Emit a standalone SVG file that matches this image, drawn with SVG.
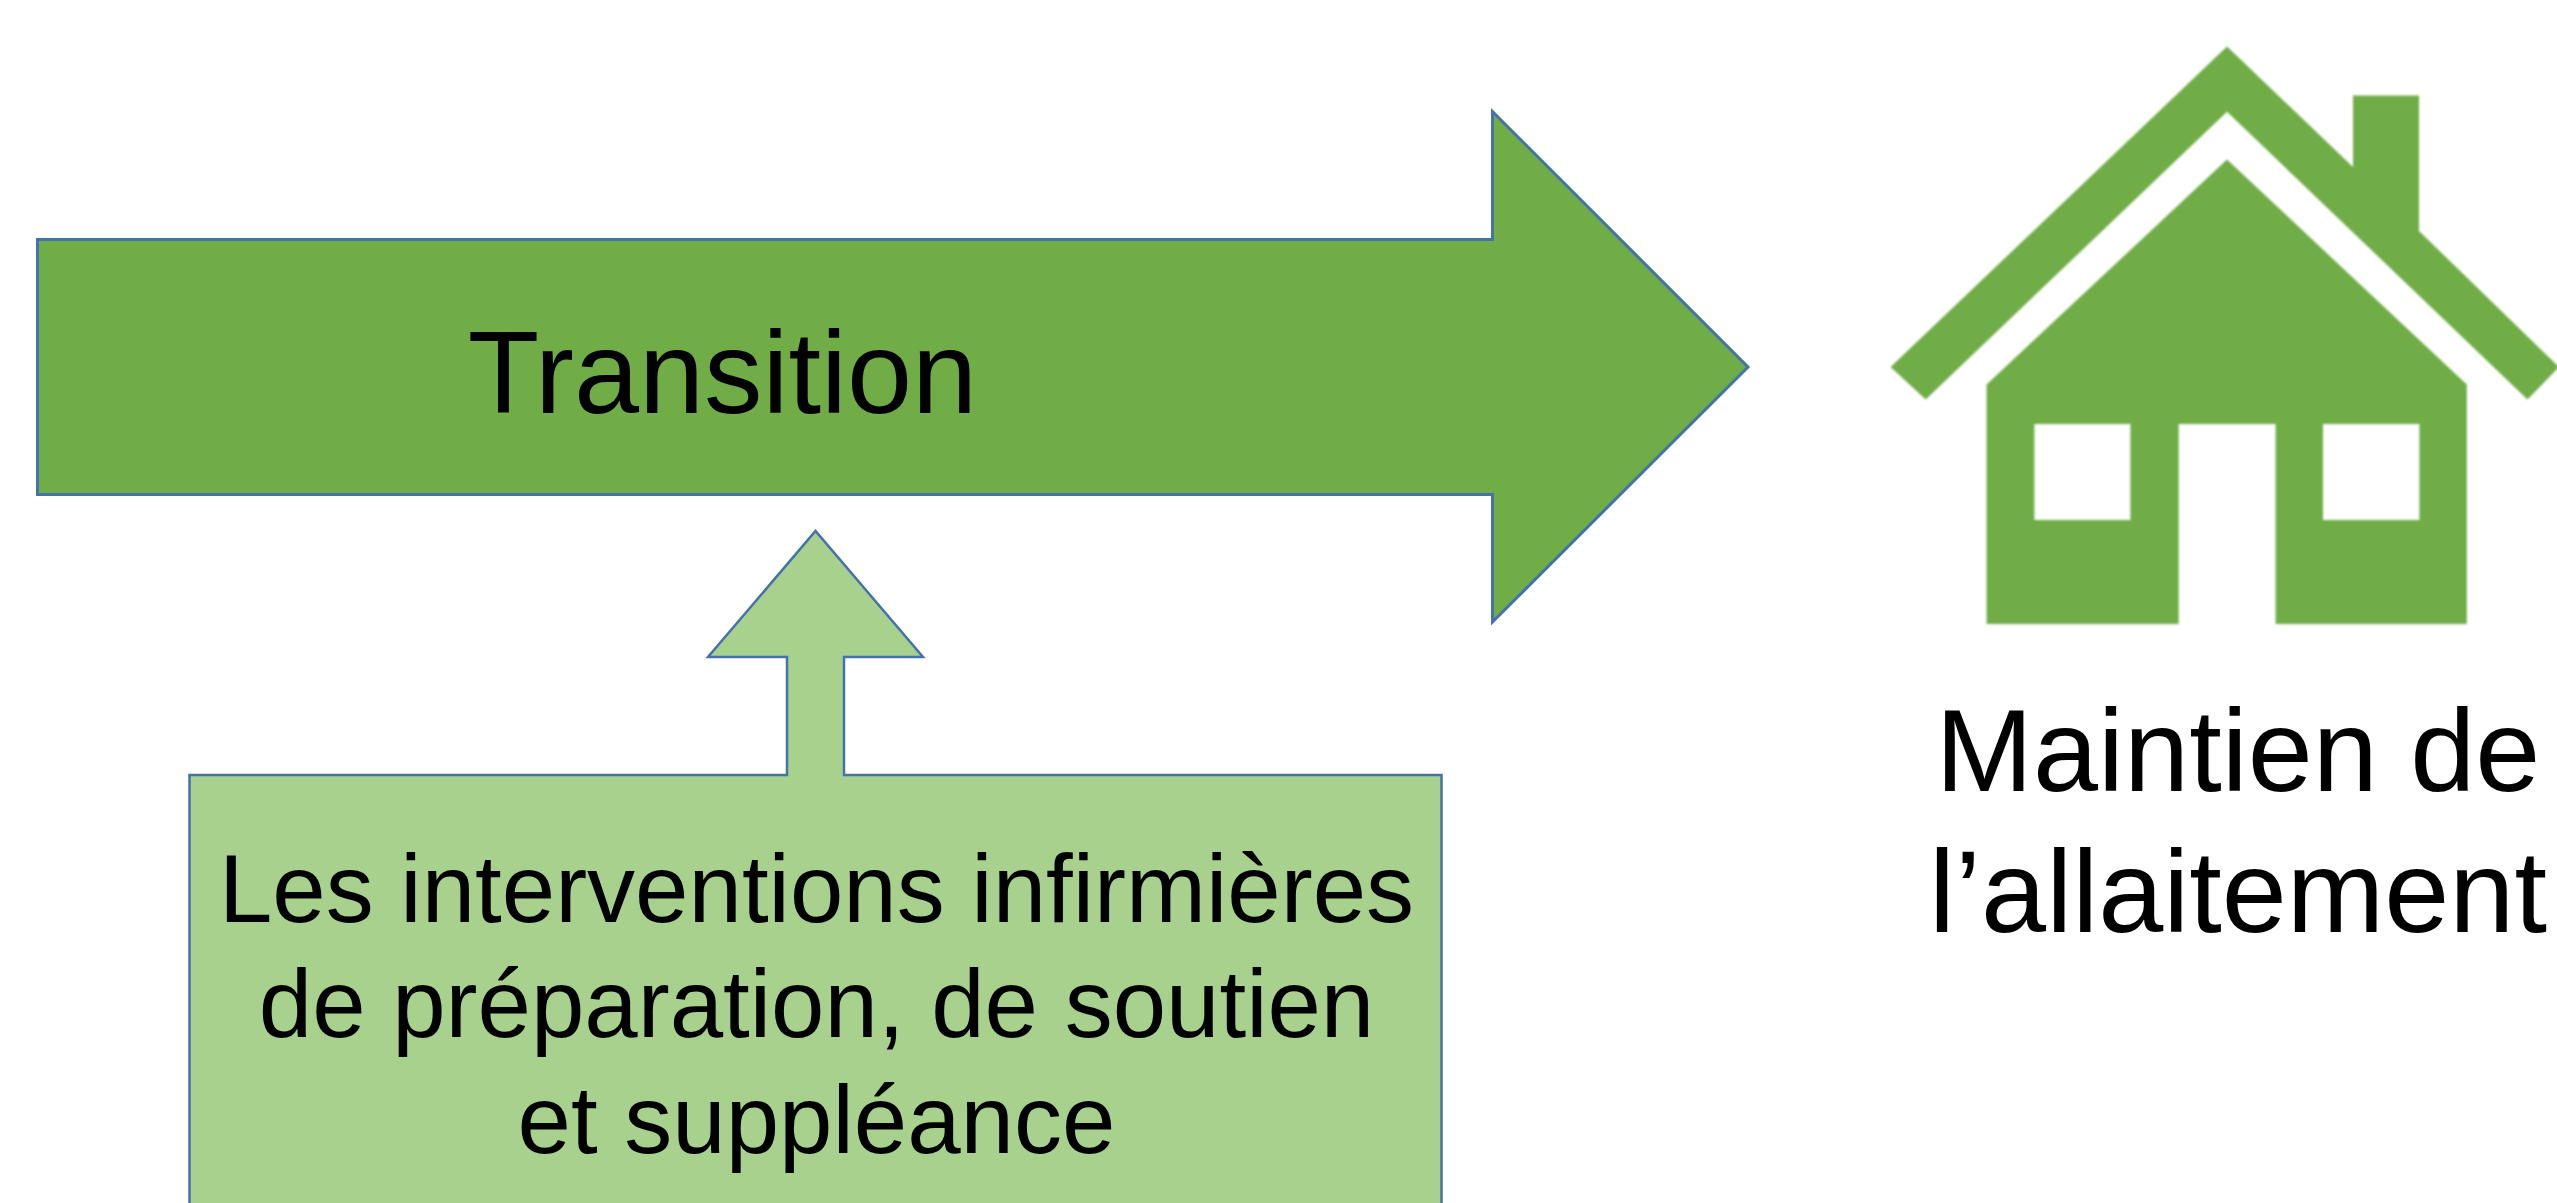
<svg xmlns="http://www.w3.org/2000/svg" width="2557" height="1203" viewBox="0 0 2557 1203">
<defs><filter id="soft" x="-5%" y="-5%" width="110%" height="110%"><feGaussianBlur stdDeviation="0.8"/></filter></defs>
<style>
text{font-family:"Liberation Sans",Arial,sans-serif;fill:#000;text-anchor:middle}
.a{stroke:#4472AC;stroke-linejoin:miter}
.d{fill:#70AD47}
.l{fill:#A9D18E}
.t{font-size:117px}
.m{font-size:96px}
</style>
<rect width="2557" height="1203" fill="#fff"/>
<g id="connectors">
<path class="a d" stroke-width="3" d="M37.500 239.500H1492.500V111.500L1748 367L1492.500 622V494.500H37.500Z"/>
</g>
<g id="transition"><text class="t" x="722.500" y="413">Transition</text></g>
<g id="interventions">
<path class="a l" stroke-width="2.500" d="M189.500 1206V775H787V657H708L815.500 531L923 657H844V775H1441.500V1206Z"/>
<text class="m" x="816.500" y="922">Les interventions infirmières</text>
<text class="m" x="816.500" y="1037">de préparation, de soutien</text>
<text class="m" x="816.500" y="1152.500">et suppléance</text>
</g>
<g id="maison">
<g filter="url(#soft)">
<path class="d" d="M2227 46.500L2353 167V95.500H2419V231L2559 367L2527.500 399.500L2227 111.800L1925.700 399.500L1890.600 367Z"/>
<path class="d" fill-rule="evenodd" d="M2227 159.600L2466.800 384.500V624H2275.600V424H2178.700V624H1986.600V384.500ZM2034.400 424V520H2130.400V424ZM2323 424V520H2419.400V424Z"/>
</g>
<text class="t" x="2238" y="791">Maintien de</text>
<text class="t" x="2238" y="932">l’allaitement</text>
</g>
</svg>
